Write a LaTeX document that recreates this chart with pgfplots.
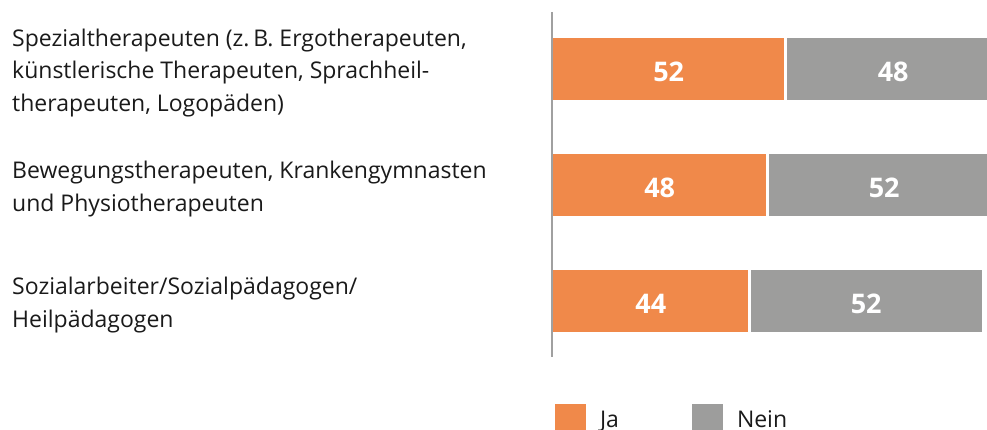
\documentclass[border=0pt]{standalone}
\usepackage{pgfplots}
\pgfplotsset{compat=1.18}
\usepackage{pgfplotstable}
\usepackage{fontspec}
\setmainfont{Open Sans}
\definecolor{ja}{RGB}{240,137,74}
\definecolor{nein}{RGB}{157,157,156}
\definecolor{axisgray}{RGB}{160,160,160}
\definecolor{txt}{RGB}{26,26,26}
\pgfplotstableread{
y ja nein
0 52 48
1 48 52
2 44 52
}\data
\begin{document}
\begin{tikzpicture}[x=1pt,y=1pt]
\useasboundingbox (0,0) rectangle (987,430);
\clip (0,0) rectangle (987,430);
\begin{axis}[
  at={(552pt,73pt)}, anchor=south west,
  scale only axis, width=435pt, height=345pt,
  xmin=0, xmax=96.9, ymin=-0.49, ymax=2.48, y dir=reverse,
  axis x line=none, axis y line*=left,
  y axis line style={draw=axisgray, line width=1.5pt, -},
  ytick={0,1,2}, major tick length=0pt,
  yticklabels={{Spezialtherapeuten (z.\,B. Ergotherapeuten,\\künstlerische Therapeuten, Sprachheil-\\therapeuten, Logopäden)},
    {Bewegungstherapeuten, Krankengymnasten\\und Physiotherapeuten},
    {Sozialarbeiter/Sozialpädagogen/\\Heilpädagogen}},
  yticklabel style={anchor=west, align=left, xshift=-540pt, yshift=-4pt, inner sep=0pt, text=txt, font=\fontsize{23}{32.5}\selectfont},
  axis on top,
  legend style={at={(0.0069,-0.1362)}, anchor=north west, draw=none, fill=none, inner sep=0pt, outer sep=0pt,
    /tikz/column sep=0pt, nodes={inner sep=0pt, anchor=base west, text=txt}, font=\fontsize{23}{26}\selectfont},
  legend columns=2,
  legend image code/.code={\fill[#1] (0pt,-7pt) rectangle (31pt,24pt);},
]
\addlegendimage{fill=ja, draw=none}
\addlegendentry{\makebox[106pt][l]{\hspace{14pt}Ja}}
\addlegendimage{fill=nein, draw=none}
\addlegendentry{\hspace{14pt}Nein}
\addplot[xbar, bar shift=0pt, bar width=0.555, fill=nein, draw=white, line width=2.4pt, forget plot]
  table[x expr=\thisrow{ja}+\thisrow{nein}, y=y] {\data};
\addplot[xbar, bar shift=0pt, bar width=0.555, fill=ja, draw=white, line width=2.4pt, forget plot]
  table[x=ja, y=y] {\data};
\addplot[draw=none, mark=none, forget plot, nodes near coords, point meta=explicit symbolic,
  nodes near coords align=center,
  every node near coord/.append style={font=\fontsize{27}{27}\selectfont\bfseries, text=white, yshift=-2.5pt}]
  table[x expr=\thisrow{ja}/2, y=y, meta=ja] {\data};
\addplot[draw=none, mark=none, forget plot, nodes near coords, point meta=explicit symbolic,
  nodes near coords align=center,
  every node near coord/.append style={font=\fontsize{27}{27}\selectfont\bfseries, text=white, yshift=-2.5pt}]
  table[x expr=\thisrow{ja}+\thisrow{nein}/2, y=y, meta=nein] {\data};
\end{axis}
\end{tikzpicture}
\end{document}
